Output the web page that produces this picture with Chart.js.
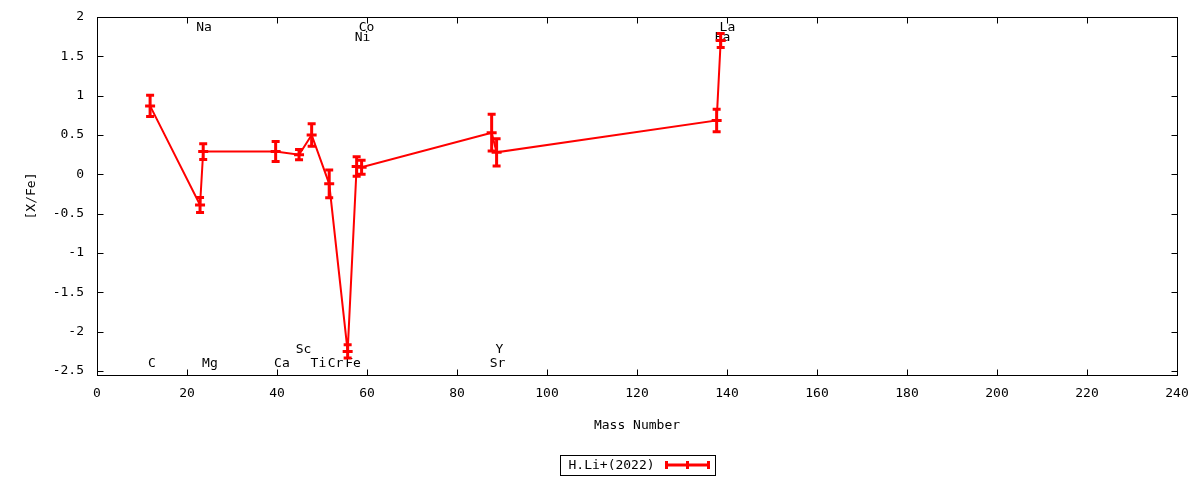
<!DOCTYPE html>
<html>
<head>
<meta charset="utf-8">
<script src="https://cdn.jsdelivr.net/npm/chart.js@4.4.1/dist/chart.umd.min.js"></script>
<style>
html,body{margin:0;padding:0;background:#fff;}
#wrap{width:1200px;height:480px;}
</style>
</head>
<body>
<div id="wrap"><canvas id="c" width="1200" height="480"></canvas></div>
<script>
// ---- data ----
const seriesName = 'H.Li+(2022)';
const elements   = ['C', 'Na', 'Mg', 'Ca', 'Sc', 'Ti', 'Cr', 'Fe', 'Ni', 'Co', 'Sr', 'Y', 'Ba', 'La'];
const massNumber = [11.8, 22.9, 23.6, 39.7, 44.9, 47.7, 51.6, 55.7, 57.7, 58.8, 87.7, 88.8, 137.7, 138.6];
const xFe        = [0.87, -0.39, 0.29, 0.29, 0.25, 0.50, -0.12, -2.25, 0.10, 0.09, 0.53, 0.28, 0.685, 1.70];
const xFeErr     = [0.136, 0.095, 0.10, 0.127, 0.065, 0.143, 0.176, 0.085, 0.123, 0.09, 0.233, 0.174, 0.142, 0.089];
// element annotation positions (data units)
const labelMass  = [12.2, 23.8, 25.1, 41.1, 45.9, 49.2, 53.0, 56.9, 59.0, 59.9, 89.0, 89.4, 139.0, 140.1];
const labelLevel = [-2.40, 1.863, -2.40, -2.40, -2.232, -2.40, -2.40, -2.40, 1.74, 1.863, -2.40, -2.232, 1.74, 1.863];
const xTicks = [0, 20, 40, 60, 80, 100, 120, 140, 160, 180, 200, 220, 240];
const yTicks = [-2.5, -2, -1.5, -1, -0.5, 0, 0.5, 1, 1.5, 2];
const xRange = [0, 240];
const yRange = [-2.55, 2];

// ---- style ----
const FAMILY = '"DejaVu Sans Mono", monospace';
const FSIZE = 13;
const FONT = FSIZE + 'px ' + FAMILY;
const RED = '#ff0000';

const gnuplotPlugin = {
  id: 'gnuplotLook',
  beforeDatasetsDraw(chart) {
    const {ctx, scales: {x, y}} = chart;
    ctx.save();
    ctx.font = FONT;
    ctx.fillStyle = '#000';
    ctx.textAlign = 'center';
    ctx.textBaseline = 'middle';
    elements.forEach((el, i) => {
      ctx.fillText(el, x.getPixelForValue(labelMass[i]), y.getPixelForValue(labelLevel[i]));
    });
    ctx.restore();
  },
  afterDatasetsDraw(chart) {
    const {ctx, scales: {x, y}} = chart;
    ctx.save();
    ctx.strokeStyle = RED;
    ctx.lineWidth = 3;
    ctx.lineCap = 'butt';
    const cap = 4, mk = 5;
    massNumber.forEach((m, i) => {
      const px = x.getPixelForValue(m);
      const top = y.getPixelForValue(xFe[i] + xFeErr[i]);
      const bot = y.getPixelForValue(xFe[i] - xFeErr[i]);
      const mid = y.getPixelForValue(xFe[i]);
      ctx.beginPath();
      ctx.moveTo(px, top); ctx.lineTo(px, bot);
      ctx.moveTo(px - cap, top); ctx.lineTo(px + cap, top);
      ctx.moveTo(px - cap, bot); ctx.lineTo(px + cap, bot);
      ctx.moveTo(px - mk, mid); ctx.lineTo(px + mk, mid);
      ctx.stroke();
    });
    ctx.restore();
  },
  afterDraw(chart) {
    const {ctx, chartArea: a, scales: {x, y}} = chart;
    ctx.save();
    ctx.strokeStyle = '#000';
    ctx.lineWidth = 1;
    const L = Math.round(a.left) + 0.5, R = Math.round(a.right) + 0.5;
    const T = Math.round(a.top) + 0.5, B = Math.round(a.bottom) + 0.5;
    ctx.strokeRect(L, T, R - L, B - T);
    const tl = 6;
    ctx.beginPath();
    xTicks.forEach(v => {
      const px = Math.round(x.getPixelForValue(v)) + 0.5;
      ctx.moveTo(px, B); ctx.lineTo(px, B - tl);
      ctx.moveTo(px, T); ctx.lineTo(px, T + tl);
    });
    yTicks.forEach(v => {
      const py = Math.round(y.getPixelForValue(v)) + 0.5;
      ctx.moveTo(L, py); ctx.lineTo(L + tl, py);
      ctx.moveTo(R, py); ctx.lineTo(R - tl, py);
    });
    ctx.stroke();

    // legend box (centered under plot area)
    const lw = 155, lh = 20;
    const cx = (a.left + a.right) / 2;
    const lx = Math.round(cx - lw / 2) + 0.5;
    const ly = chart.height - 25 + 0.5;
    ctx.strokeRect(lx, ly, lw, lh);
    ctx.font = FONT;
    ctx.fillStyle = '#000';
    ctx.textAlign = 'left';
    ctx.textBaseline = 'middle';
    ctx.fillText(seriesName, lx + 8, ly + lh / 2);
    const sx0 = lx + 106, sx1 = lx + 148, sy = ly + lh / 2 - 0.5;
    ctx.strokeStyle = RED;
    ctx.lineWidth = 3;
    ctx.beginPath();
    ctx.moveTo(sx0, sy); ctx.lineTo(sx1, sy);
    ctx.moveTo(sx0, sy - 4); ctx.lineTo(sx0, sy + 4);
    ctx.moveTo(sx1, sy - 4); ctx.lineTo(sx1, sy + 4);
    const sm = (sx0 + sx1) / 2;
    ctx.moveTo(sm, sy - 4); ctx.lineTo(sm, sy + 4);
    ctx.stroke();
    ctx.restore();
  }
};

const tickFont = {family: FAMILY, size: FSIZE};
const noScalePadding = s => { s.paddingTop = 0; s.paddingBottom = 0; };

new Chart(document.getElementById('c'), {
  type: 'line',
  data: {
    datasets: [{
      label: seriesName,
      data: massNumber.map((m, i) => ({x: m, y: xFe[i]})),
      borderColor: RED,
      backgroundColor: RED,
      borderWidth: 2,
      pointRadius: 0,
      tension: 0,
      fill: false
    }]
  },
  options: {
    responsive: false,
    animation: false,
    devicePixelRatio: 1,
    layout: {padding: {left: 0, right: 23, top: 17, bottom: 0}},
    plugins: {legend: {display: false}, tooltip: {enabled: false}},
    scales: {
      x: {
        type: 'linear',
        min: xRange[0], max: xRange[1],
        afterBuildTicks: s => { s.ticks = xTicks.map(v => ({value: v})); },
        afterFit: s => { s.height = 105; },
        grid: {display: false, drawTicks: false},
        border: {display: false},
        ticks: {padding: 11, color: '#000', font: tickFont, maxRotation: 0, autoSkip: false, callback: v => String(v)},
        title: {display: true, text: 'Mass Number', color: '#000', font: tickFont, padding: {top: 0, bottom: 47}}
      },
      y: {
        type: 'linear',
        min: yRange[0], max: yRange[1],
        afterBuildTicks: s => { s.ticks = yTicks.map(v => ({value: v})); },
        afterFit: s => { s.width = 97; noScalePadding(s); },
        grid: {display: false, drawTicks: false},
        border: {display: false},
        ticks: {padding: 13, color: '#000', font: tickFont, autoSkip: false, callback: v => String(v)},
        title: {display: true, text: '[X/Fe]', color: '#000', font: tickFont, padding: {top: 24, bottom: 0}}
      }
    }
  },
  plugins: [gnuplotPlugin]
});
</script>
</body>
</html>
